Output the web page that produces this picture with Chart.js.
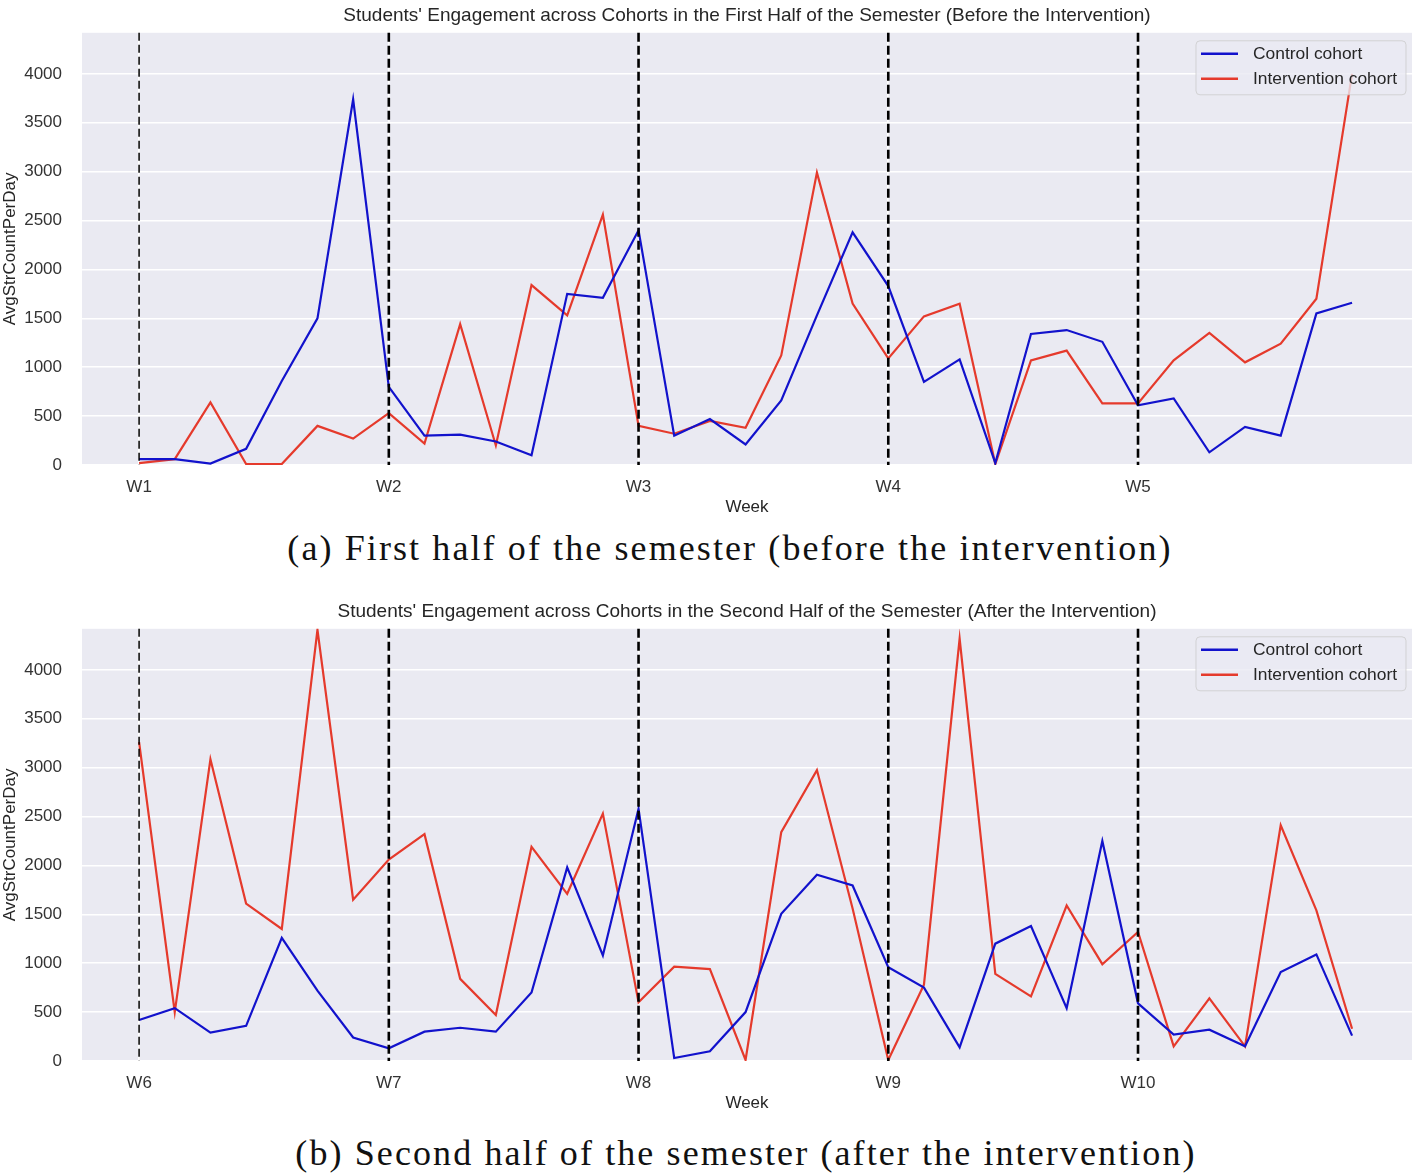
<!DOCTYPE html>
<html>
<head>
<meta charset="utf-8">
<script src="https://cdn.jsdelivr.net/npm/chart.js@4.4.1/dist/chart.umd.min.js"></script>
<style>
  body { margin: 0; background: #fff; width: 1416px; height: 1175px; position: relative; overflow: hidden; }
  canvas { position: absolute; left: 0; }
  .caption {
    position: absolute; width: 1000px; text-align: center; white-space: nowrap;
    font-family: 'Liberation Serif', 'Times New Roman', serif;
    font-size: 36px; line-height: 40px; letter-spacing: 2.1px; color: #111;
  }
</style>
</head>
<body>
<canvas id="firstHalf" width="1416" height="525" style="top:0"></canvas>
<div class="caption" style="top:528px;left:230px">(a) First half of the semester (before the intervention)</div>
<canvas id="secondHalf" width="1416" height="525" style="top:596px"></canvas>
<div class="caption" style="top:1133px;left:246px">(b) Second half of the semester (after the intervention)</div>
<script>
// Week boundaries (day index) and their labels
const weekTicks = [0, 7, 14, 21, 28];
const weekLabelsFirst = ['W1', 'W2', 'W3', 'W4', 'W5'];
const weekLabelsSecond = ['W6', 'W7', 'W8', 'W9', 'W10'];
const yTicks = [0, 500, 1000, 1500, 2000, 2500, 3000, 3500, 4000];
const yMax = 4420;

// Daily AvgStrCountPerDay, first half (W1-W5)
const controlFirst = [60, 60, 15, 165, 860, 1500, 3740, 800, 300, 310, 240, 100, 1750, 1710, 2400,
  300, 470, 210, 660, 1530, 2380, 1830, 850, 1080, 20, 1340, 1380, 1260, 610, 680, 130, 390, 300, 1550, 1660];
const interventionFirst = [20, 60, 640, 10, 10, 400, 270, 530, 220, 1440, 200, 1840, 1530, 2560, 400,
  320, 450, 380, 1120, 2990, 1650, 1090, 1520, 1650, 10, 1070, 1170, 630, 630, 1070, 1350, 1050, 1240, 1700, 4000];

// Daily AvgStrCountPerDay, second half (W6-W10)
const controlSecond = [420, 540, 290, 360, 1260, 720, 240, 130, 300, 340, 300, 700, 1980, 1080, 2580,
  30, 100, 500, 1505, 1905, 1795, 960, 750, 140, 1200, 1380, 540, 2250, 590, 270, 320, 150, 910, 1090, 260];
const interventionSecond = [3260, 500, 3085, 1610, 1350, 4410, 1650, 2060, 2320, 840, 470, 2190, 1710, 2530, 600,
  965, 940, 10, 2340, 2975, 1560, 10, 780, 4320, 890, 660, 1590, 990, 1320, 150, 640, 150, 2410, 1540, 330];

Chart.defaults.font.family = "'Liberation Sans', Arial, sans-serif";
Chart.defaults.color = '#333';

// grey plot background
const plotBg = {
  id: 'plotBg',
  beforeDraw(chart) {
    const { ctx, chartArea: a } = chart;
    ctx.save();
    ctx.fillStyle = '#eaeaf2';
    ctx.fillRect(a.left, a.top, a.right - a.left, a.bottom - a.top);
    ctx.restore();
  }
};

// dashed week separators, first one thinner
const weekLines = {
  id: 'weekLines',
  afterDatasetsDraw(chart) {
    const { ctx, chartArea: a, scales } = chart;
    ctx.save();
    ctx.strokeStyle = '#000';
    weekTicks.forEach((w, i) => {
      const x = scales.x.getPixelForValue(w);
      ctx.lineWidth = i === 0 ? 1.5 : 2.6;
      ctx.setLineDash(i === 0 ? [8, 4] : [9, 4]);
      ctx.beginPath();
      ctx.moveTo(x, a.top);
      ctx.lineTo(x, a.bottom);
      ctx.stroke();
    });
    ctx.restore();
  }
};

// matplotlib-like legend in upper right corner
const boxLegend = {
  id: 'boxLegend',
  afterDraw(chart) {
    const { ctx, chartArea: a } = chart;
    const w = 210, h = 54, x0 = a.right - 6 - w, y0 = a.top + 8;
    ctx.save();
    ctx.beginPath();
    ctx.roundRect(x0, y0, w, h, 4);
    ctx.fillStyle = 'rgba(234,234,242,0.8)';
    ctx.fill();
    ctx.strokeStyle = 'rgba(204,204,204,0.8)';
    ctx.lineWidth = 1;
    ctx.stroke();
    ctx.font = "17.4px 'Liberation Sans', Arial, sans-serif";
    ctx.textBaseline = 'middle';
    chart.data.datasets.forEach((ds, i) => {
      const y = y0 + 13 + i * 25;
      ctx.strokeStyle = ds.borderColor;
      ctx.lineWidth = 2.5;
      ctx.beginPath();
      ctx.moveTo(x0 + 5, y);
      ctx.lineTo(x0 + 42, y);
      ctx.stroke();
      ctx.fillStyle = '#262626';
      ctx.fillText(ds.label, x0 + 57, y);
    });
    ctx.restore();
  }
};

function makeChart(id, title, weekLabels, control, intervention) {
  new Chart(document.getElementById(id), {
    type: 'line',
    data: {
      datasets: [
        {
          label: 'Control cohort',
          data: control.map((v, i) => ({ x: i, y: v })),
          borderColor: '#1212cc',
          borderWidth: 2.2,
          pointRadius: 0,
          tension: 0
        },
        {
          label: 'Intervention cohort',
          data: intervention.map((v, i) => ({ x: i, y: v })),
          borderColor: '#e53a2c',
          borderWidth: 2.2,
          pointRadius: 0,
          tension: 0
        }
      ]
    },
    options: {
      responsive: false,
      animation: false,
      layout: { padding: { left: 0, right: 4, top: 0, bottom: 0 } },
      plugins: {
        legend: { display: false },
        tooltip: { enabled: false },
        title: {
          display: true,
          text: title,
          fullSize: false,
          color: '#262626',
          font: { size: 19, weight: 'normal' },
          padding: { top: 4, bottom: 6 }
        }
      },
      scales: {
        x: {
          type: 'linear',
          min: -1.6,
          max: 35.68,
          afterFit: s => { s.height = 60; },
          afterBuildTicks: s => { s.ticks = weekTicks.map(v => ({ value: v })); },
          ticks: {
            padding: 12,
            font: { size: 17 },
            color: '#333',
            callback: v => weekLabels[weekTicks.indexOf(v)]
          },
          grid: { color: '#fff', lineWidth: 1.6, drawTicks: false },
          border: { display: false },
          title: {
            display: true,
            text: 'Week',
            color: '#262626',
            font: { size: 17 },
            padding: { top: 0, bottom: 7 }
          }
        },
        y: {
          min: 0,
          max: yMax,
          afterFit: s => { s.width = 82; },
          afterBuildTicks: s => { s.ticks = yTicks.map(v => ({ value: v })); },
          ticks: { padding: 20, font: { size: 17 }, color: '#333', callback: v => String(v) },
          grid: { color: '#fff', lineWidth: 1.6, drawTicks: false },
          border: { display: false },
          title: {
            display: true,
            text: 'AvgStrCountPerDay',
            color: '#262626',
            font: { size: 17 },
            padding: 0
          }
        }
      }
    },
    plugins: [plotBg, weekLines, boxLegend]
  });
}

makeChart('firstHalf',
  "Students' Engagement across Cohorts in the First Half of the Semester (Before the Intervention)",
  weekLabelsFirst, controlFirst, interventionFirst);
makeChart('secondHalf',
  "Students' Engagement across Cohorts in the Second Half of the Semester (After the Intervention)",
  weekLabelsSecond, controlSecond, interventionSecond);
</script>
</body>
</html>
